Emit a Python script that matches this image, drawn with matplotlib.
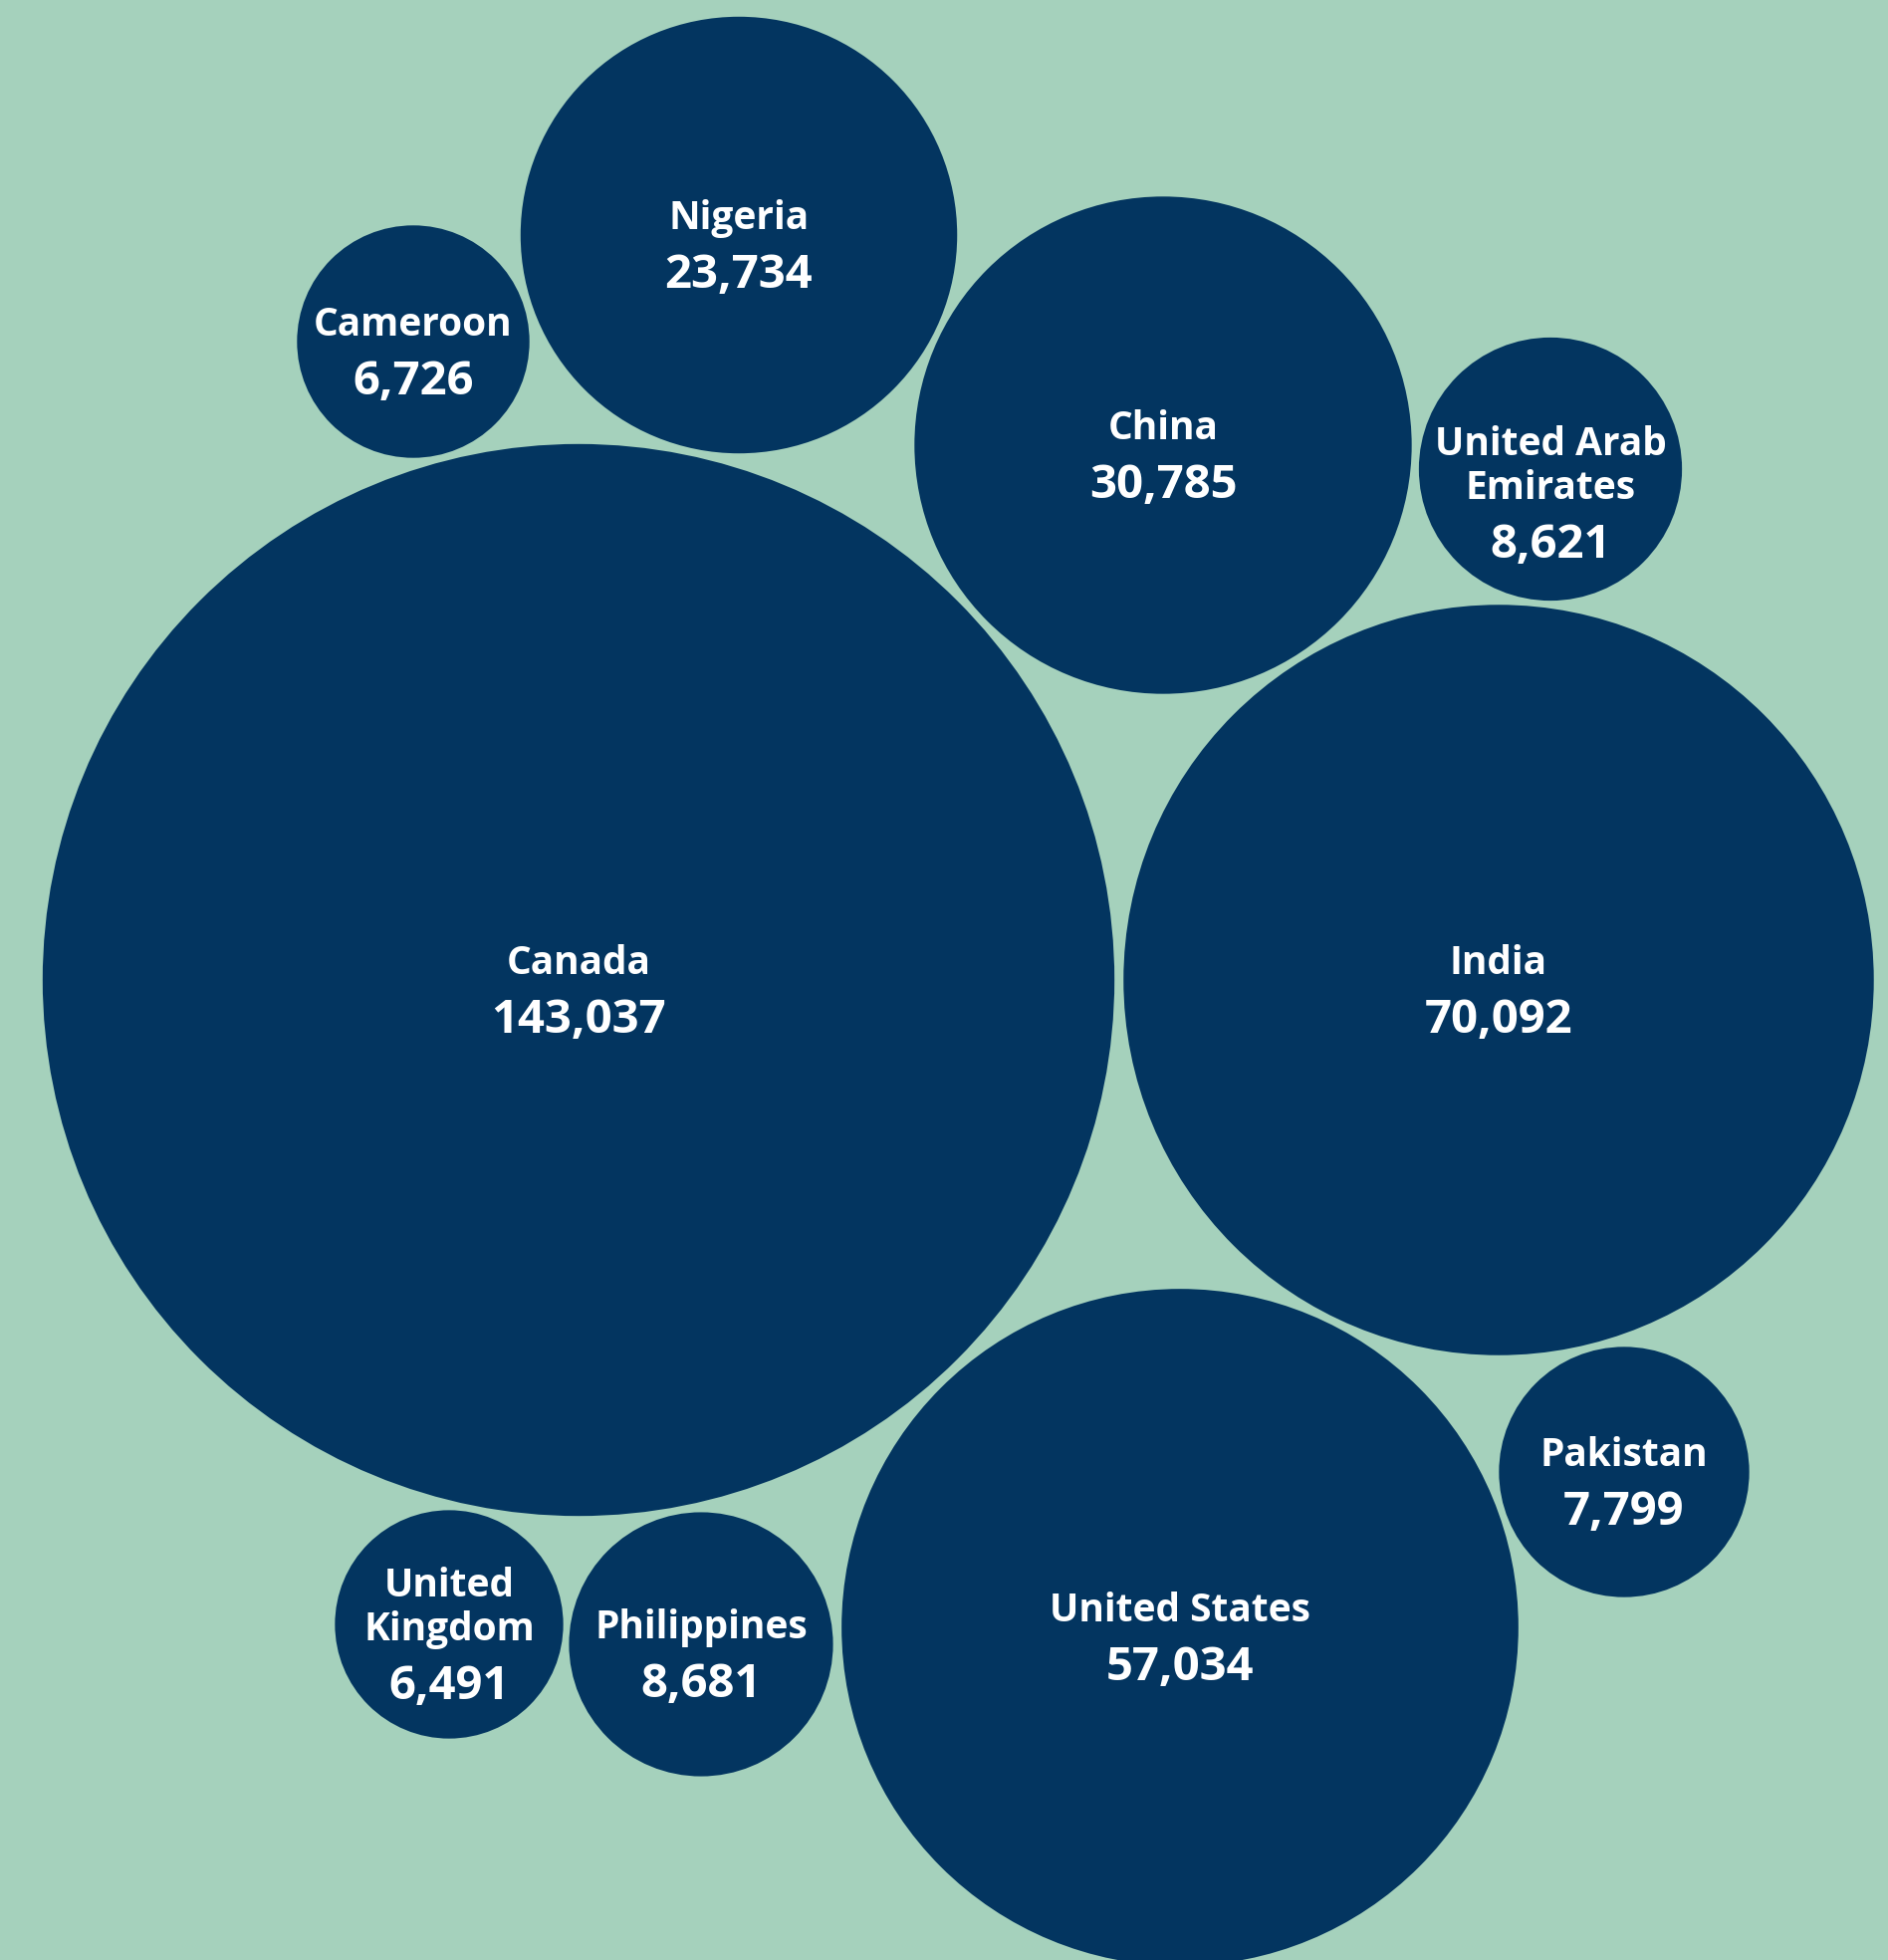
import matplotlib
matplotlib.use("Agg")
import matplotlib.pyplot as plt
from matplotlib.patches import Circle
import numpy as np

# Data
countries = ["Canada", "India", "United States", "China", "Nigeria",
             "United Arab\nEmirates", "Philippines", "Pakistan", "Cameroon",
             "United\nKingdom"]
values = [143037, 70092, 57034, 30785, 23734, 8621, 8681, 7799, 6726, 6491]

# Layout: bubble centres (pixels, packed layout)
cx = [581, 1505, 1185, 1168, 742, 1557, 704, 1631, 415, 451]
cy = [984, 984, 1634, 447, 236, 471, 1651, 1478, 343, 1631]
# small vertical nudge of the text block inside some bubbles
text_dy = [0, 0, 0, 0, 0, 14, 0, 0, 0, 0]

bg = "#A5D1BC"
bubble = "#033560"
W, H = 1896, 1968
scale = 1.423  # radius in px = scale * sqrt(value)

fig = plt.figure(figsize=(W / 100, H / 100), dpi=100)
fig.patch.set_facecolor(bg)
ax = fig.add_axes([0, 0, 1, 1])
ax.set_facecolor(bg)
ax.set_xlim(0, W)
ax.set_ylim(H, 0)
ax.set_aspect("equal")
ax.axis("off")

font = "Open Sans"
line_gap = 44   # between label lines
num_gap = 57    # from last label line to number

for name, v, x, y, dy in zip(countries, values, cx, cy, text_dy):
    r = scale * np.sqrt(v)
    ax.add_patch(Circle((x, y), r, color=bubble, lw=0))
    lines = name.split("\n")
    total = line_gap * (len(lines) - 1) + num_gap
    top = y + 12 + dy - total / 2
    for i, ln in enumerate(lines):
        ax.text(x, top + i * line_gap, ln, ha="center", va="center",
                color="white", fontsize=28, fontweight="bold", family=font)
    ax.text(x, top + line_gap * (len(lines) - 1) + num_gap, f"{v:,}",
            ha="center", va="center", color="white", fontsize=34,
            fontweight="bold", family=font)

fig.savefig("out.png", dpi=100, facecolor=bg)
